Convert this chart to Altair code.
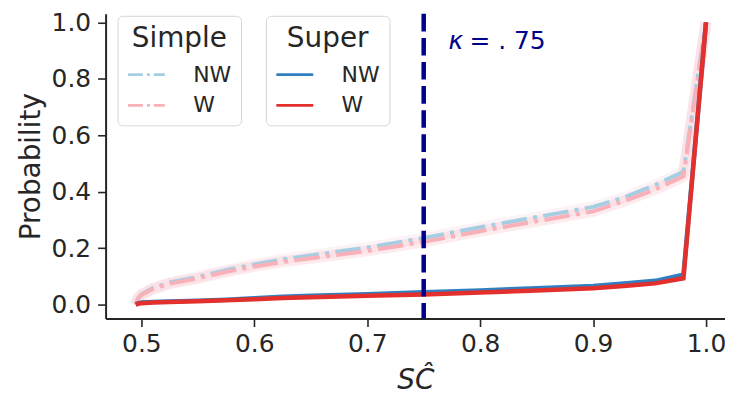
import altair as alt
import pandas as pd

# ---- data ----
x_vals = [0.495, 0.497, 0.5, 0.51, 0.525, 0.55, 0.575, 0.6, 0.625, 0.65, 0.7,
          0.75, 0.8, 0.85, 0.9, 0.93, 0.955, 0.98, 1.0]
simple_nw = [0.0, 0.022, 0.036, 0.058, 0.078, 0.098, 0.122, 0.142, 0.160, 0.174, 0.202,
             0.236, 0.274, 0.310, 0.346, 0.383, 0.424, 0.470, 1.0]
simple_w = [0.0, 0.021, 0.034, 0.055, 0.074, 0.093, 0.116, 0.135, 0.151, 0.164, 0.190,
            0.222, 0.260, 0.295, 0.330, 0.370, 0.408, 0.454, 1.0]
super_nw = [0.0, 0.004, 0.007, 0.009, 0.011, 0.014, 0.017, 0.022, 0.028, 0.031, 0.037,
            0.044, 0.050, 0.058, 0.066, 0.076, 0.084, 0.106, 1.0]
super_w = [0.0, 0.003, 0.005, 0.007, 0.009, 0.012, 0.015, 0.019, 0.023, 0.026, 0.031,
           0.036, 0.043, 0.050, 0.058, 0.067, 0.075, 0.093, 1.0]

groups = ["NW", "W"]
simple_colors = ["#a6cee3", "#f9b0b8"]
glow_colors = ["#f4cfdc", "#f9b0b8"]
super_colors = ["#2f7fc1", "#e3302c"]
kappa = [0.75]
x_ticks = [0.5, 0.6, 0.7, 0.8, 0.9, 1.0]
y_ticks = [0.0, 0.2, 0.4, 0.6, 0.8, 1.0]

FONT = "DejaVu Sans"
INK = "#262626"


def long(values_by_group):
    rows = []
    for g, vals in values_by_group.items():
        for xv, yv in zip(x_vals, vals):
            rows.append({"x": xv, "p": yv, "group": g})
    return pd.DataFrame(rows)


df_simple = long({"NW": simple_nw, "W": simple_w})
df_super = long({"NW": super_nw, "W": super_w})
df_rule = pd.DataFrame({"x": kappa})
df_k = pd.DataFrame({"x": [0.772], "p": [0.907], "t": ["κ"]})
df_k2 = pd.DataFrame({"x": [0.7905], "p": [0.907], "t": ["= . 75"]})

xs = alt.Scale(domain=[0.4683, 1.0168], nice=False, zero=False)
ys = alt.Scale(domain=[-0.0494, 1.030], nice=False, zero=False)

X = alt.X("x:Q", scale=xs,
          axis=alt.Axis(title="SĈ", values=x_ticks, format=".1f"))
Y = alt.Y("p:Q", scale=ys,
          axis=alt.Axis(title="Probability", values=y_ticks, format=".1f"))

legend_common = dict(
    orient="none", legendY=2, symbolType="stroke", symbolSize=1369,
    symbolStrokeWidth=2.7, titleFontSize=28, titleFont=FONT, titleFontWeight="normal",
    titleColor=INK, labelFontSize=22, labelFont=FONT, labelColor=INK,
    titleAnchor="middle", padding=9, strokeColor="#d6d6d6", cornerRadius=5,
    fillColor="white", labelOffset=27, rowPadding=0, titlePadding=2,
)

glow = alt.Chart(df_simple).mark_line(strokeWidth=11, opacity=0.25).encode(
    x=X, y=Y,
    color=alt.Color("group:N", scale=alt.Scale(domain=groups, range=glow_colors), legend=None),
)

simple = alt.Chart(df_simple).mark_line(strokeWidth=4, strokeDash=[25.6, 6.4, 4, 6.4]).encode(
    x=X, y=Y,
    color=alt.Color("group:N", scale=alt.Scale(domain=groups, range=simple_colors),
                    legend=alt.Legend(title="Simple", legendX=12, symbolDash=[15, 4, 3, 4],
                                      **legend_common)),
)

sup = alt.Chart(df_super).mark_line(strokeWidth=4.5).encode(
    x=X, y=Y,
    color=alt.Color("group:N", scale=alt.Scale(domain=groups, range=super_colors),
                    legend=alt.Legend(title="Super", legendX=161, **legend_common)),
)

rule = alt.Chart(df_rule).mark_rule(color="#00008b", strokeWidth=4.5,
                                     strokeDash=[17.7, 6.5]).encode(x=X)

ktext = alt.Chart(df_k).mark_text(align="left", baseline="alphabetic", font=FONT,
                                  fontSize=25, fontStyle="italic", color="#00008b").encode(
    x=X, y=Y, text="t:N")
ktext2 = alt.Chart(df_k2).mark_text(align="left", baseline="alphabetic", font=FONT,
                                   fontSize=25, color="#00008b").encode(
    x=X, y=Y, text="t:N")

chart = alt.layer(glow, simple, sup, rule, ktext, ktext2).resolve_scale(
    color="independent"
).properties(
    width=622, height=306,
    autosize=alt.AutoSizeParams(type="none"),
    padding={"left": 98, "top": 5, "right": 0, "bottom": 79},
).configure_view(stroke=None).configure_axis(
    grid=False, domainColor=INK, domainWidth=2, tickColor=INK, tickWidth=1.6,
    tickSize=8, labelFont=FONT, labelFontSize=25, labelColor=INK,
    titleFont=FONT, titleFontSize=28, titleColor=INK, titleFontWeight="normal",
).configure_axisX(
    labelPadding=5, titlePadding=10, titleFontStyle="italic",
).configure_axisY(
    labelPadding=7, titlePadding=6,
)

chart.save("out.html", embed_options={"renderer": "svg", "actions": False})
